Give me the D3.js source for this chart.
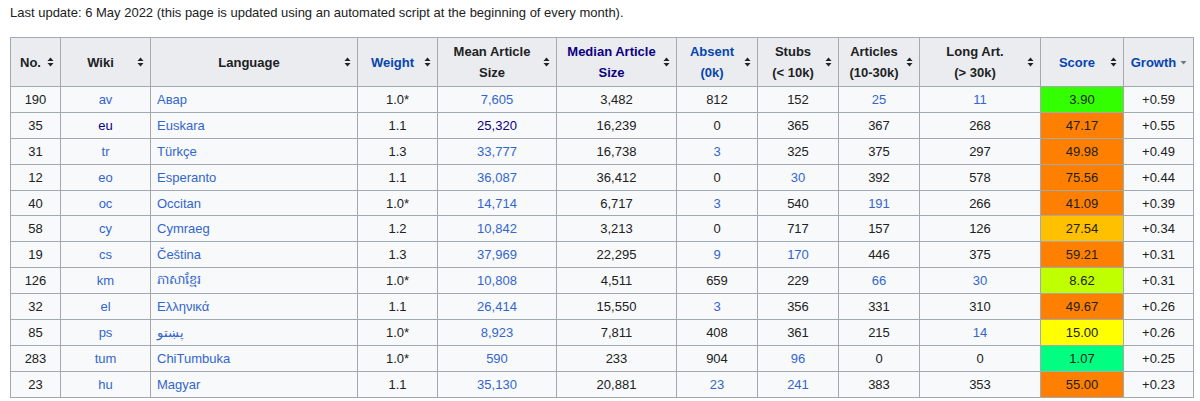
<!DOCTYPE html>
<html><head><meta charset="utf-8">
<script src="https://cdn.jsdelivr.net/npm/d3@7"></script>
<style>
body{margin:0;background:#fff;font-family:"Liberation Sans",Arial,sans-serif;font-size:13px;color:#202122}
#note{position:absolute;left:10px;top:5px;font-size:13px}
table{position:absolute;left:10px;top:37px;border-collapse:collapse;table-layout:fixed;width:1183px;background:#f8f9fa}
th,td{border:1px solid #a2a9b1;padding:0 6px;text-align:center;white-space:nowrap;overflow:hidden}
th{background:#eaecf0;height:48px;font-weight:bold;line-height:21px;position:relative;padding-right:16px}
td{height:24.9px}
td.l{text-align:left}
.a{color:#3366cc}.v{color:#0b0080}
th.b{color:#0645ad}
th.bv{color:#0b0080}
.arr{position:absolute;right:6px;top:50%;margin-top:-5px}
</style></head><body>
<div id="note">Last update: 6 May 2022 (this page is updated using an automated script at the beginning of every month).</div>
<table id="t"></table>
<script>
const headers=["No.","Wiki","Language","Weight","Mean Article<br>Size","Median Article<br>Size","Absent<br>(0k)","Stubs<br>(< 10k)","Articles<br>(10-30k)","Long Art.<br>(> 30k)","Score","Growth"];
const blueHeaders=[3,6,10,11];
const visitedHeaders=[5];
const colWidths=[50,90,207,80,119,120,81,81,81,121,83,70];
const no=[190,35,31,12,40,58,19,126,32,85,283,23];
const wiki=["av","eu","tr","eo","oc","cy","cs","km","el","ps","tum","hu"];
const language=["Авар","Euskara","Türkçe","Esperanto","Occitan","Cymraeg","Čeština","ភាសាខ្មែរ","Ελληνικά","پښتو","ChiTumbuka","Magyar"];
const weight=["1.0*","1.1","1.3","1.1","1.0*","1.2","1.3","1.0*","1.1","1.0*","1.0*","1.1"];
const meanSize=[7605,25320,33777,36087,14714,10842,37969,10808,26414,8923,590,35130];
const medianSize=[3482,16239,16738,36412,6717,3213,22295,4511,15550,7811,233,20881];
const absent=[812,0,3,0,3,0,9,659,3,408,904,23];
const stubs=[152,365,325,30,540,717,170,229,356,361,96,241];
const articles=[25,367,375,392,191,157,446,66,331,215,0,383];
const longArt=[11,268,297,578,266,126,375,30,310,14,0,353];
const score=[3.90,47.17,49.98,75.56,41.09,27.54,59.21,8.62,49.67,15.00,1.07,55.00];
const growth=[0.59,0.55,0.49,0.44,0.39,0.34,0.31,0.31,0.26,0.26,0.25,0.23];
const absentLinked=["tr","oc","cs","el","hu"];
const stubsLinked=["eo","cs","tum","hu"];
const articlesLinked=["av","oc","km"];
const longLinked=["av","km","ps"];
const scoreColor=v=>v<2?"#00ff80":v<5?"#33ff00":v<10?"#bfff00":v<20?"#ffff00":v<30?"#ffc000":"#ff8000";
const fmt=d3.format(",");
const t=d3.select("#t");
t.append("colgroup").selectAll("col").data(colWidths).join("col").style("width",d=>d+"px");
const hr=t.append("tr");
headers.forEach((h,i)=>{
  const th=hr.append("th").html(h).classed("b",blueHeaders.includes(i)).classed("bv",visitedHeaders.includes(i));
  const svg=th.append("svg").attr("class","arr").attr("width",7).attr("height",10);
  if(i<11){svg.append("path").attr("d","M0.5,4 L3.5,0.5 L6.5,4Z").attr("fill","#202122");svg.append("path").attr("d","M0.5,6 L3.5,9.5 L6.5,6Z").attr("fill","#202122");}
  else svg.append("path").attr("d","M0.5,4 L3.5,7.5 L6.5,4Z").attr("fill","#72777d");
});
no.forEach((n,i)=>{
  const w=wiki[i];
  const cells=[
    [n,""],[w,w==="eu"?"v":"a"],[language[i],"a l"],[weight[i],""],
    [fmt(meanSize[i]),w==="eu"?"v":"a"],[fmt(medianSize[i]),""],
    [fmt(absent[i]),absentLinked.includes(w)?"a":""],
    [stubs[i],stubsLinked.includes(w)?"a":""],
    [articles[i],articlesLinked.includes(w)?"a":""],
    [longArt[i],longLinked.includes(w)?"a":""],
    [score[i].toFixed(2),"s"],["+"+growth[i].toFixed(2),""]];
  const tr=t.append("tr");
  cells.forEach(([v,c])=>{
    const td=tr.append("td").text(v).attr("class",c);
    if(c==="s")td.style("background",scoreColor(score[i]));
  });
});
</script></body></html>
